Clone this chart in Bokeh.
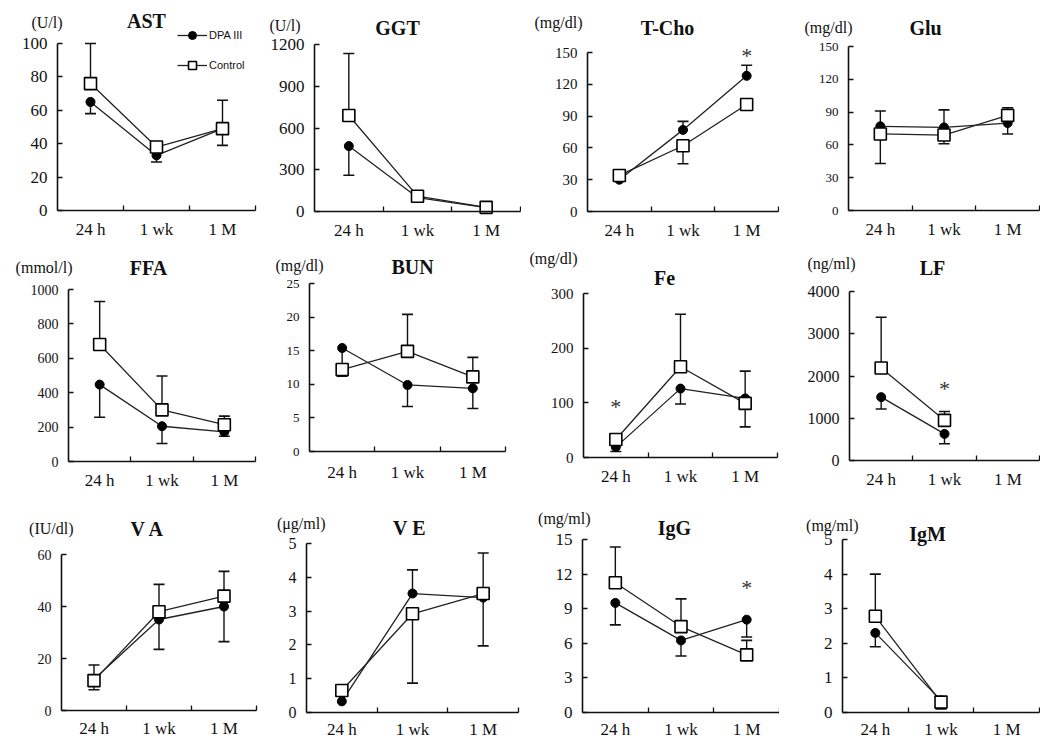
import math
from bokeh.plotting import figure
from bokeh.layouts import gridplot
from bokeh.models import Range1d, FixedTicker, Label, Legend, LegendItem
from bokeh.embed import file_html
from bokeh.resources import INLINE

nan = float("nan")

# ---------------- data ----------------
categories = ["24 h", "1 wk", "1 M"]
series_names = ["DPA III", "Control"]

# signed SD: + drawn upward, - drawn downward, 0 = not visible
ast_dpa = [65, 33, 49];        ast_dpa_sd = [-7, -4, -10]
ast_ctrl = [76, 38, 49];       ast_ctrl_sd = [24, 0, 17]

ggt_dpa = [470, 100, 28];      ggt_dpa_sd = [-210, 0, 0]
ggt_ctrl = [690, 110, 30];     ggt_ctrl_sd = [445, 0, 0]

tcho_dpa = [30, 77, 128];      tcho_dpa_sd = [0, 8, 10]
tcho_ctrl = [34, 62, 101];     tcho_ctrl_sd = [0, -17, 0]

glu_dpa = [77, 76, 80];        glu_dpa_sd = [14, 16, -10]
glu_ctrl = [70, 69, 87];       glu_ctrl_sd = [-27, -8, 7]

ffa_dpa = [447, 205, 172];     ffa_dpa_sd = [-190, -100, -25]
ffa_ctrl = [680, 300, 214];    ffa_ctrl_sd = [250, 197, 50]

bun_dpa = [15.4, 9.9, 9.4];    bun_dpa_sd = [-4.2, -3.2, -3.0]
bun_ctrl = [12.2, 14.9, 11.1]; bun_ctrl_sd = [0, 5.5, 2.9]

fe_dpa = [19, 126, 108];       fe_dpa_sd = [-8, -28, 50]
fe_ctrl = [33, 166, 99];       fe_ctrl_sd = [0, 96, -43]

lf_dpa = [1500, 630, nan];     lf_dpa_sd = [-280, -235, 0]
lf_ctrl = [2190, 950, nan];    lf_ctrl_sd = [1200, 210, 0]

va_dpa = [12, 35, 40];         va_dpa_sd = [-4, -11.5, -13.5]
va_ctrl = [11.5, 38, 44];      va_ctrl_sd = [6, 10.5, 9.5]

ve_dpa = [0.33, 3.52, 3.4];    ve_dpa_sd = [0, 0.7, -1.43]
ve_ctrl = [0.65, 2.92, 3.52];  ve_ctrl_sd = [0, -2.05, 1.2]

igg_dpa = [9.5, 6.25, 8.05];   igg_dpa_sd = [-1.9, -1.35, -1.5]
igg_ctrl = [11.25, 7.45, 5.0]; igg_ctrl_sd = [3.1, 2.4, 1.25]

igm_dpa = [2.3, 0.35, nan];    igm_dpa_sd = [-0.4, -0.25, 0]
igm_ctrl = [2.78, 0.3, nan];   igm_ctrl_sd = [1.22, 0, 0]

titles = ["AST", "GGT", "T-Cho", "Glu", "FFA", "BUN", "Fe", "LF", "V A", "V E", "IgG", "IgM"]
units = ["(U/l)", "(U/l)", "(mg/dl)", "(mg/dl)", "(mmol/l)", "(mg/dl)", "(mg/dl)", "(ng/ml)",
         "(IU/dl)", "(\u03bcg/ml)", "(mg/ml)", "(mg/ml)"]
y_max = [100, 1200, 150, 150, 1000, 25, 300, 4000, 60, 5, 15, 5]
y_step = [20, 300, 30, 30, 200, 5, 100, 1000, 20, 1, 3, 1]

dpa_values = [ast_dpa, ggt_dpa, tcho_dpa, glu_dpa, ffa_dpa, bun_dpa, fe_dpa, lf_dpa, va_dpa, ve_dpa, igg_dpa, igm_dpa]
dpa_sds = [ast_dpa_sd, ggt_dpa_sd, tcho_dpa_sd, glu_dpa_sd, ffa_dpa_sd, bun_dpa_sd, fe_dpa_sd, lf_dpa_sd,
           va_dpa_sd, ve_dpa_sd, igg_dpa_sd, igm_dpa_sd]
ctrl_values = [ast_ctrl, ggt_ctrl, tcho_ctrl, glu_ctrl, ffa_ctrl, bun_ctrl, fe_ctrl, lf_ctrl, va_ctrl, ve_ctrl,
               igg_ctrl, igm_ctrl]
ctrl_sds = [ast_ctrl_sd, ggt_ctrl_sd, tcho_ctrl_sd, glu_ctrl_sd, ffa_ctrl_sd, bun_ctrl_sd, fe_ctrl_sd, lf_ctrl_sd,
            va_ctrl_sd, ve_ctrl_sd, igg_ctrl_sd, igm_ctrl_sd]

# significance marks
sig_panels = ["T-Cho", "Fe", "LF", "IgG"]
sig_cats = ["1 M", "24 h", "1 wk", "1 M"]
sig_vals = [147, 93, 1700, 10.8]

# ---------------- layout (page pixel positions; page starts at 0,0) ----------------
col_left = [0, 258, 521, 779]
col_width = [258, 263, 258, 261]
row_top = [0, 241, 500]
row_height = [241, 259, 240]

# axes box (left, top, right, bottom) in page px
boxes = [(57, 43, 255, 210), (314, 44, 520, 211), (587, 52, 778, 211), (848, 46, 1039, 210),
         (68, 289, 255, 461), (309, 283, 505, 451), (583, 293, 777, 457), (849, 291, 1039, 460),
         (61, 554, 256, 710), (306, 543, 518, 712), (582, 539, 779, 712), (842, 539, 1039, 712)]
title_pos = [(146, 20), (397, 27), (667, 27), (925, 27), (148, 267), (412, 266), (664, 277), (932, 267),
             (147, 528), (409, 527), (674, 527), (927, 533)]
unit_pos = [(62, 22), (300, 25), (582, 22), (852, 27), (72, 267), (323, 265), (577, 258), (855, 263),
            (73, 528), (325, 523), (590, 518), (858, 525)]
tick_fs = [17, 17, 15, 13, 14, 13, 15, 16, 14, 16, 17, 17]
x_standoff = [9, 9, 9, 9, 9, 11, 9, 9, 8, 7, 7, 7]

SERIF = "Liberation Serif"
INK = "#111111"
ncat = len(categories)

figs = []
for i in range(12):
    r, c = divmod(i, 4)
    bl, bt, br, bb = boxes[i]
    W, H = col_width[c], row_height[r]
    # frame = whole cell; both axes are pinned at data 0 inside it
    fl, ft = col_left[c], row_top[r]
    fr, fb = col_left[c] + W, row_top[r] + H
    sx_ = ncat / (br - bl)
    sy_ = y_max[i] / (bb - bt)
    x0 = -(bl - fl) * sx_
    x1 = ncat + (fr - br) * sx_
    y0 = -(fb - bb) * sy_
    y1 = y_max[i] + (bt - ft) * sy_

    def dx(px, bl=bl, sx_=sx_):
        return (px - bl) * sx_

    def dy(py, bb=bb, sy_=sy_):
        return (bb - py) * sy_

    p = figure(width=W, height=H, x_range=Range1d(x0, x1), y_range=Range1d(y0, y1),
               output_backend="svg", toolbar_location=None,
               min_border_left=0, min_border_right=0, min_border_top=0, min_border_bottom=0)
    p.outline_line_color = None
    p.xgrid.visible = False
    p.ygrid.visible = False

    xs = [k + 0.5 for k in range(ncat)]
    xa = p.xaxis[0]
    xa.fixed_location = 0
    xa.bounds = (0, ncat)
    xa.ticker = FixedTicker(ticks=xs, minor_ticks=list(range(1, ncat + 1)))
    xa.major_label_overrides = {x: lab for x, lab in zip(xs, categories)}
    xa.major_tick_in = 0
    xa.major_tick_out = 0
    xa.minor_tick_in = 5
    xa.minor_tick_out = 0
    xa.axis_line_width = 1.6
    xa.minor_tick_line_width = 1.3
    xa.axis_line_color = INK
    xa.minor_tick_line_color = INK
    xa.major_label_text_font = SERIF
    xa.major_label_text_font_size = "17px"
    xa.major_label_text_color = INK
    xa.major_label_standoff = x_standoff[i]

    ya = p.yaxis[0]
    ya.fixed_location = 0
    ya.bounds = (0, y_max[i])
    ya.ticker = FixedTicker(ticks=list(range(0, y_max[i] + y_step[i], y_step[i])))
    ya.major_tick_in = 5
    ya.major_tick_out = 0
    ya.minor_tick_line_color = None
    ya.axis_line_width = 1.6
    ya.major_tick_line_width = 1.3
    ya.axis_line_color = INK
    ya.major_tick_line_color = INK
    ya.major_label_text_font = SERIF
    ya.major_label_text_font_size = f"{tick_fs[i]}px"
    ya.major_label_text_color = INK
    ya.major_label_standoff = 10

    rends = {}
    for key, vals in (("dpa", dpa_values[i]), ("ctrl", ctrl_values[i])):
        rends[key + "_line"] = p.line(xs, vals, line_color="#222222", line_width=1.3)

    for vals, sds in ((dpa_values[i], dpa_sds[i]), (ctrl_values[i], ctrl_sds[i])):
        ex, e0, e1 = [], [], []
        for x, v, s in zip(xs, vals, sds):
            if not math.isnan(v) and s != 0:
                ex.append(x); e0.append(v); e1.append(v + s)
        if ex:
            p.segment(x0=ex, y0=e0, x1=ex, y1=e1, line_color=INK, line_width=1.4)
            p.scatter(ex, e1, marker="dash", size=11, line_color=INK, line_width=1.6)

    rends["dpa_mark"] = p.scatter(xs, dpa_values[i], marker="circle", size=9,
                                  fill_color="black", line_color="black")
    rends["ctrl_mark"] = p.scatter(xs, ctrl_values[i], marker="square", size=12,
                                   fill_color="white", line_color="black", line_width=1.6)

    if titles[i] in sig_panels:
        j = sig_panels.index(titles[i])
        sxx = [categories.index(sig_cats[j]) + 0.5]
        p.text(sxx, [sig_vals[j]], text=["*"], text_align="center", text_baseline="middle",
               text_font={"value": SERIF}, text_font_size="22px", text_color="#333333")

    tx, ty = title_pos[i]
    p.add_layout(Label(x=dx(tx), y=dy(ty), text=titles[i], text_align="center", text_baseline="middle",
                       text_font=SERIF, text_font_style="bold", text_font_size="20px", text_color=INK))
    ux, uy = unit_pos[i]
    p.add_layout(Label(x=dx(ux), y=dy(uy), text=units[i], text_align="right", text_baseline="middle",
                       text_font=SERIF, text_font_size="16px", text_color=INK))

    if i == 0:
        legend = Legend(items=[LegendItem(label=series_names[0], renderers=[rends["dpa_line"], rends["dpa_mark"]]),
                               LegendItem(label=series_names[1], renderers=[rends["ctrl_line"], rends["ctrl_mark"]])],
                        location=(177 - fl, fb - 75), orientation="vertical",
                        glyph_width=30, glyph_height=20, label_height=20, spacing=10,
                        label_standoff=2, padding=0, margin=0,
                        border_line_color=None, background_fill_alpha=0,
                        label_text_font="Liberation Sans", label_text_font_size="11px",
                        label_text_color=INK)
        p.add_layout(legend)
    figs.append(p)

grid = gridplot([figs[0:4], figs[4:8], figs[8:12]], toolbar_location=None)

open("out.html", "w").write(file_html(grid, INLINE))
